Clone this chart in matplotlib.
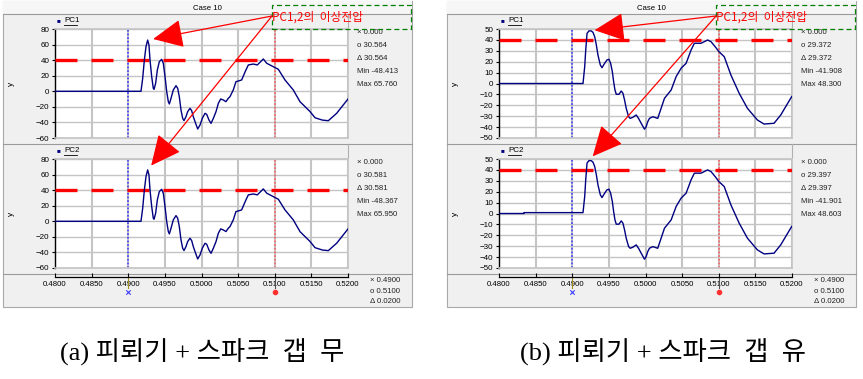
import matplotlib
matplotlib.use('Agg')
import matplotlib.pyplot as plt
import numpy as np
from matplotlib.patches import Rectangle, ConnectionPatch
from matplotlib.lines import Line2D
from matplotlib.transforms import blended_transform_factory

# ---------------- data ----------------
t_a = [0.48000, 0.49174, 0.49197, 0.49220, 0.49242, 0.49265, 0.49283, 0.49297, 0.49320, 0.49342,
       0.49352, 0.49374, 0.49397, 0.49424, 0.49456, 0.49479, 0.49502, 0.49525, 0.49547, 0.49561,
       0.49584, 0.49615, 0.49652, 0.49675, 0.49697, 0.49720, 0.49743, 0.49761, 0.49788, 0.49811,
       0.49843, 0.49866, 0.49888, 0.49920, 0.49948, 0.49980, 0.50011, 0.50048, 0.50071, 0.50102,
       0.50130, 0.50162, 0.50198, 0.50230, 0.50262, 0.50298, 0.50334, 0.50366, 0.50389, 0.50434,
       0.50470, 0.50548, 0.50600, 0.50639, 0.50707, 0.50762, 0.50844, 0.50890, 0.50980, 0.51000,
       0.51049, 0.51140, 0.51253, 0.51345, 0.51481, 0.51550, 0.51650, 0.51731, 0.51845, 0.52000]
pc1_a = [0.0, 0.0, 16.6, 40.2, 57.3, 65.8, 59.4, 40.2, 18.8, 3.8,
         2.5, 10.2, 27.3, 38.0, 41.0, 35.9, 18.8, -0.5, -13.3, -16.3,
         -9.0, 1.7, 7.2, 3.8, -6.9, -24.0, -34.7, -37.7, -32.6, -26.2,
         -21.9, -24.9, -32.6, -41.2, -48.4, -43.3, -34.7, -28.3, -29.6, -36.9,
         -41.2, -34.7, -26.2, -15.5, -9.9, -11.2, -13.3, -9.0, -6.9, 1.7,
         12.3, 14.5, 26.0, 33.8, 35.0, 33.8, 41.5, 36.0, 31.6, 30.6,
         28.2, 14.5, 1.7, -13.4, -26.0, -34.0, -37.0, -37.8, -28.3, -9.9]
pc2_a = [0.0, 0.0, 16.7, 40.3, 57.4, 66.0, 59.5, 40.3, 18.9, 3.9,
         2.6, 10.3, 27.4, 38.1, 41.1, 36.0, 18.9, -0.4, -13.2, -16.2,
         -8.9, 1.8, 7.3, 3.9, -6.8, -23.9, -34.6, -37.6, -32.5, -26.1,
         -21.8, -24.8, -32.5, -41.1, -48.4, -43.2, -34.6, -28.2, -29.5, -36.8,
         -41.1, -34.6, -26.1, -15.4, -9.8, -11.1, -13.2, -8.9, -6.8, 1.8,
         12.4, 14.6, 26.1, 33.9, 35.1, 33.9, 41.6, 36.1, 31.7, 30.6,
         28.3, 14.6, 1.8, -13.3, -25.9, -33.9, -36.9, -37.7, -28.2, -9.8]

t_b = [0.48000, 0.48340, 0.48341, 0.49147, 0.49170, 0.49184, 0.49202, 0.49229, 0.49261, 0.49283,
       0.49306, 0.49329, 0.49351, 0.49383, 0.49406, 0.49442, 0.49474, 0.49501, 0.49524, 0.49547,
       0.49565, 0.49583, 0.49601, 0.49637, 0.49669, 0.49692, 0.49714, 0.49737, 0.49769, 0.49791,
       0.49828, 0.49873, 0.49905, 0.49941, 0.49986, 0.50009, 0.50031, 0.50054, 0.50100, 0.50167,
       0.50259, 0.50350, 0.50418, 0.50486, 0.50554, 0.50622, 0.50667, 0.50758, 0.50848, 0.50894,
       0.50960, 0.51000, 0.51075, 0.51166, 0.51279, 0.51392, 0.51528, 0.51619, 0.51755, 0.51846,
       0.51996]
pc1_b = [0.0, 0.0, 0.0, 0.0, 15.4, 30.7, 46.0, 48.3, 48.2, 46.9,
         43.0, 35.3, 26.1, 17.0, 14.5, 18.5, 21.6, 22.2, 18.5, 10.9,
         1.7, -6.0, -9.9, -9.9, -6.9, -9.0, -15.1, -22.8, -30.4, -32.0,
         -31.0, -28.9, -32.0, -36.5, -41.9, -39.6, -35.0, -32.0, -30.5, -32.0,
         -13.6, -6.0, 6.3, 14.0, 18.5, 30.7, 36.9, 36.9, 39.9, 38.4,
         33.0, 29.4, 24.6, 7.8, -9.0, -22.8, -33.5, -37.2, -36.5, -28.9,
         -12.0]
pc2_b = [0.0, 0.0, 0.8, 0.8, 15.6, 30.9, 46.3, 48.6, 48.4, 47.1,
         43.2, 35.5, 26.3, 17.2, 14.6, 18.6, 21.7, 22.3, 18.6, 11.0,
         1.8, -5.9, -9.8, -9.8, -6.8, -8.9, -15.0, -22.7, -30.3, -31.9,
         -30.9, -28.8, -31.9, -36.4, -41.9, -39.5, -34.9, -31.9, -30.4, -31.9,
         -13.5, -5.9, 6.4, 14.1, 18.6, 30.8, 37.0, 37.0, 40.0, 38.5,
         33.1, 29.4, 24.7, 7.9, -8.9, -22.7, -33.4, -37.1, -36.4, -28.8,
         -11.9]

x_ticks = [0.48, 0.485, 0.49, 0.495, 0.50, 0.505, 0.51, 0.515, 0.52]
y_ticks_a = [-60, -40, -20, 0, 20, 40, 60, 80]
y_ticks_b = [-50, -40, -30, -20, -10, 0, 10, 20, 30, 40, 50]
threshold = 40
cursor1, cursor2 = 0.49, 0.51

info_a1 = ['\u00d7 0.000', 'o 30.564', '\u0394 30.564', 'Min -48.413', 'Max 65.760']
info_a2 = ['\u00d7 0.000', 'o 30.581', '\u0394 30.581', 'Min -48.367', 'Max 65.950']
info_b1 = ['\u00d7 0.000', 'o 29.372', '\u0394 29.372', 'Min -41.908', 'Max 48.300']
info_b2 = ['\u00d7 0.000', 'o 29.397', '\u0394 29.397', 'Min -41.901', 'Max 48.603']
info_x = ['\u00d7 0.4900', 'o 0.5100', '\u0394 0.0200']
title = 'Case 10'
note = 'PC1,2의  이상전압'
captions = ['(a) 피뢰기 + 스파크  갭  무', '(b) 피뢰기 + 스파크  갭  유']

# ---------------- figure ----------------
W, H = 863, 379
fig = plt.figure(figsize=(W / 100, H / 100), dpi=100)
fig.patch.set_facecolor('white')
SANS = ['Liberation Sans', 'DejaVu Sans']
KR = ['Noto Sans CJK KR', 'DejaVu Sans']


def fx(px):
    return px / W


def fy(py):
    return 1 - py / H


def add_ax(x0, y0, x1, y1):
    return fig.add_axes([x0 / W, 1 - y1 / H, (x1 - x0) / W, (y1 - y0) / H])


def rect(x0, y0, x1, y1, fc, ec='none', lw=0.8, ls='-', z=-5):
    r = Rectangle((fx(x0), fy(y1)), (x1 - x0) / W, (y1 - y0) / H, transform=fig.transFigure,
                  facecolor=fc, edgecolor=ec, linewidth=lw, linestyle=ls, zorder=z)
    fig.add_artist(r)


def hline(x0, x1, y, color, lw=0.8, z=-4):
    fig.add_artist(Line2D([fx(x0), fx(x1)], [fy(y), fy(y)], transform=fig.transFigure,
                          color=color, lw=lw, zorder=z))


def vline(x, y0, y1, color, lw=0.8, z=-4):
    fig.add_artist(Line2D([fx(x), fx(x)], [fy(y0), fy(y1)], transform=fig.transFigure,
                          color=color, lw=lw, zorder=z))


def plot_area(x0, x1, y0, y1, t, v, yticks, name, info, left):
    ax = add_ax(x0, y0, x1, y1)
    ax.set_facecolor('white')
    ax.set_xlim(x_ticks[0], x_ticks[-1])
    ax.set_ylim(yticks[0], yticks[-1])
    ax.set_xticks(x_ticks)
    ax.set_yticks(yticks)
    ax.tick_params(axis='x', length=0, labelbottom=False)
    ax.tick_params(axis='y', length=2.5, width=0.8, direction='out', pad=1.5,
                   labelsize=5.8, colors='black')
    for lab in ax.get_yticklabels():
        lab.set_family(SANS)
    ax.grid(True, axis='x', color='#c4c4c4', lw=1.5)
    ax.grid(True, axis='y', color='#c4c4c4', lw=1.0)
    ax.set_axisbelow(True)
    for s in ['top', 'right', 'bottom']:
        ax.spines[s].set_color('#c4c4c4')
        ax.spines[s].set_linewidth(1.2)
    ax.spines['left'].set_color('black')
    ax.spines['left'].set_linewidth(1.0)
    ax.axhline(threshold, color='#ff0000', lw=2.4, dashes=(6.6, 4.2), zorder=3)
    ax.axvline(cursor1, color='#3a3aff', lw=1.1, ls=(0, (1.2, 1.2)), zorder=2)
    ax.axvline(cursor2, color='#ff5a5a', lw=1.1, ls=(0, (1.2, 1.2)), zorder=2)
    ax.plot(t, v, color='#000080', lw=1.0, zorder=4)
    # legend header
    fig.text(fx(x0 + 2), fy(y0 - 8), '\u25a0', color='#000080', fontsize=4.5,
             va='center', ha='left', family=SANS)
    fig.text(fx(x0 + 9), fy(y0 - 8), name, color='black', fontsize=5.8,
             va='center', ha='left', family=SANS)
    hline(x0 + 9, x0 + 22, y0 - 4, 'black', lw=0.6, z=2)
    # info text
    for i, s in enumerate(info):
        fig.text(fx(left + 354), fy(y0 + 4 + i * 12.8), s, fontsize=5.6, color='#222222',
                 va='center', ha='left', family=SANS)
    # y label
    fig.text(fx(left + 8), fy((y0 + y1) / 2), 'y', fontsize=6, rotation=90,
             va='center', ha='center', family=SANS)
    return ax


def panel(left, right, t, v1, v2, yticks, info1, info2, caption, cap_x):
    x0, x1 = left + 52, left + 345
    # panel background
    rect(left, 1, right, 307, '#f0f0f0', '#a8a8a8', lw=0.8)
    rect(left, 1, right, 14, '#f6f6f6', 'none')
    hline(left, right, 14, '#9a9a9a')
    hline(left, right, 144, '#9a9a9a')
    hline(left, right, 274, '#9a9a9a')
    vline(x1, 144, 157, '#b0b0b0')
    vline(x1, 14, 27, '#b0b0b0')
    fig.text(fx((left + right) / 2), fy(8), title, fontsize=5.6, ha='center', va='center',
             family=SANS)

    ax1 = plot_area(x0, x1, 29, 138, t, v1, yticks, 'PC1', info1, left)
    ax2 = plot_area(x0, x1, 159, 268, t, v2, yticks, 'PC2', info2, left)

    # shared x axis
    axx = add_ax(x0, 271, x1, 277)
    axx.patch.set_alpha(0)
    axx.set_xlim(x_ticks[0], x_ticks[-1])
    axx.set_ylim(0, 1)
    axx.set_yticks([])
    axx.set_xticks(x_ticks)
    axx.set_xticklabels(['%.4f' % v for v in x_ticks])
    for s in ['top', 'right', 'left']:
        axx.spines[s].set_visible(False)
    axx.spines['bottom'].set_linewidth(0.9)
    axx.tick_params(axis='x', direction='in', length=3, width=0.8, pad=3, labelsize=5.6)
    for lab in axx.get_xticklabels():
        lab.set_family(SANS)
    bt = blended_transform_factory(axx.transData, fig.transFigure)
    axx.plot([cursor1, cursor1], [fy(277), fy(288)], color='#a09020', lw=0.8,
             transform=bt, clip_on=False)
    axx.plot([cursor2, cursor2], [fy(277), fy(288)], color='#505050', lw=0.8,
             transform=bt, clip_on=False)
    axx.scatter([cursor1], [fy(292)], marker='x', s=10, color='#3a3aff', lw=0.8,
                transform=bt, clip_on=False)
    axx.scatter([cursor2], [fy(292)], marker='o', s=9, color='#ff3030',
                transform=bt, clip_on=False)
    for i, s in enumerate(info_x):
        fig.text(fx(left + 367), fy(281 + i * 10.3), s, fontsize=5.6, color='#222222',
                 va='center', ha='left', family=SANS)

    # annotation box and arrows
    rect(left + 269, 5, left + 408, 29, 'none', '#008000', lw=0.9, ls=(0, (4, 2.5)), z=5)
    fig.text(fx(left + 269), fy(17), note, color='#ff0000', fontsize=8.5, ha='left',
             va='center', family=KR, zorder=6)
    for ax, v in ((ax1, v1), (ax2, v2)):
        k = int(np.argmax(v))
        con = ConnectionPatch(xyA=(left + 269, H - 16), coordsA='figure pixels',
                              xyB=(t[k], v[k]), coordsB=ax.transData,
                              arrowstyle='-|>,head_length=0.95,head_width=0.45',
                              mutation_scale=20, color='#ff0000', lw=0.9,
                              shrinkA=0, shrinkB=4, zorder=10)
        fig.add_artist(con)

    fig.text(fx(cap_x), fy(352), caption, fontsize=19, ha='center', va='center',
             family=['Liberation Serif', 'Noto Sans CJK KR'])


panel(3, 412, t_a, pc1_a, pc2_a, y_ticks_a, info_a1, info_a2, captions[0], 202)
panel(447, 856, t_b, pc1_b, pc2_b, y_ticks_b, info_b1, info_b2, captions[1], 663)

fig.savefig('out.png', dpi=100, facecolor='white')
